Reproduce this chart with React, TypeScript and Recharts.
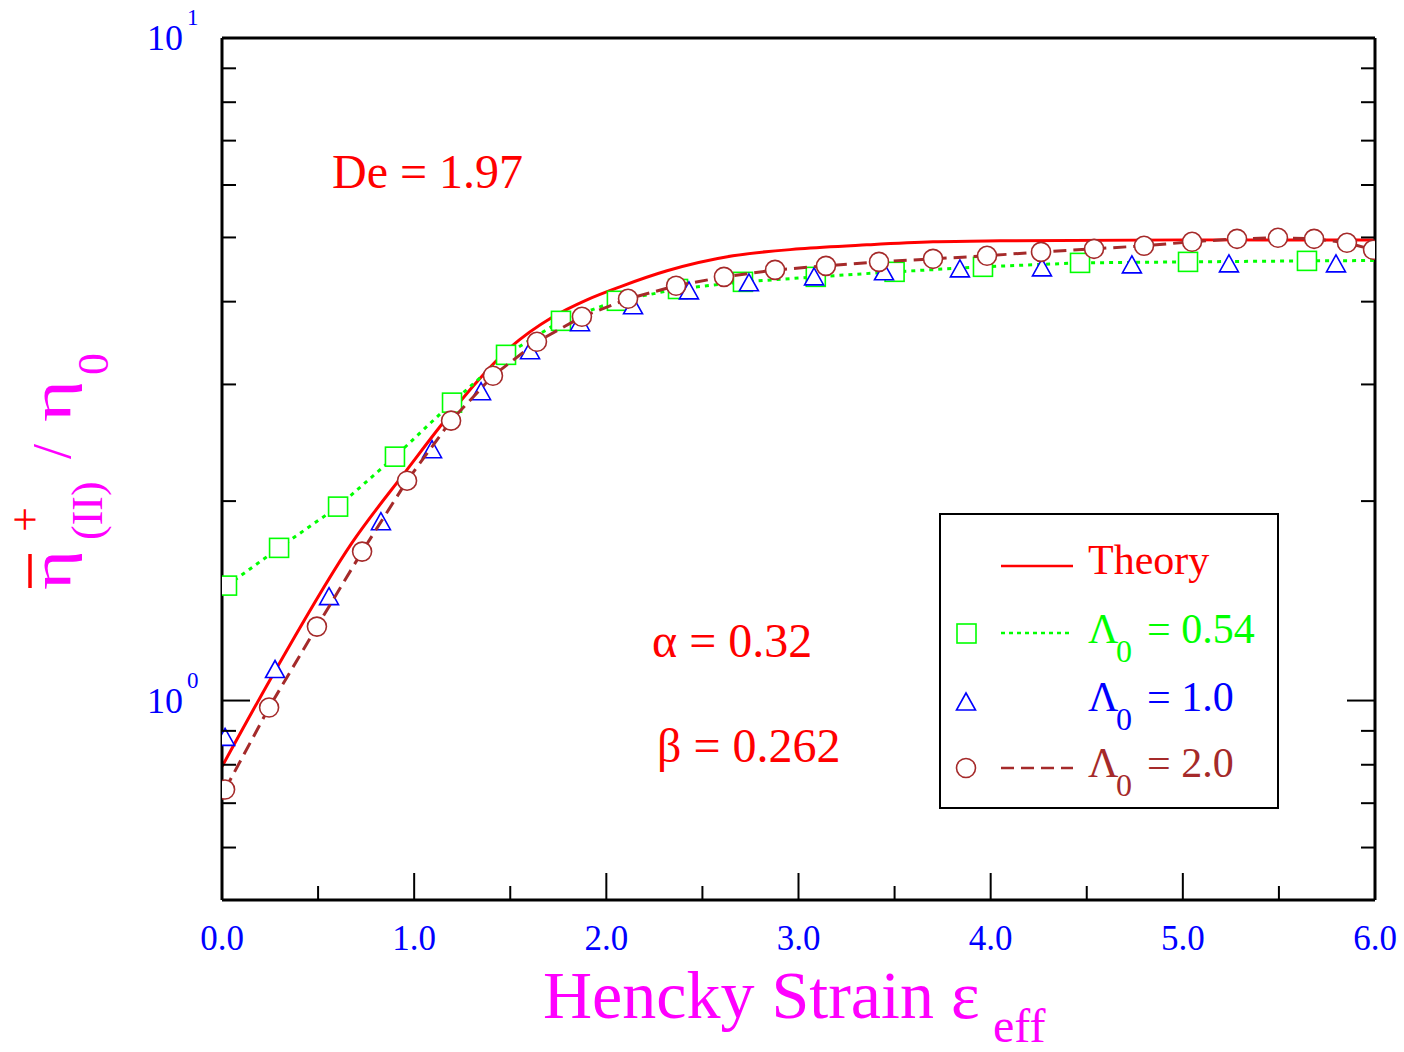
import React from 'react';
import { ComposedChart, Line, Scatter, XAxis, YAxis } from 'recharts';

// ---------- data ----------
const theoryX = [0, 0.286, 0.677, 0.963, 1.134, 1.327, 1.499, 1.723, 1.899, 2.071, 2.316, 2.659, 3.008, 3.356, 3.7, 4.049, 5.02, 6.0];
const theoryY = [0.795, 1.121, 1.731, 2.231, 2.59, 3.029, 3.408, 3.795, 4.026, 4.212, 4.453, 4.691, 4.806, 4.873, 4.924, 4.941, 4.958, 4.958];

const greenX = [0.026, 0.297, 0.604, 0.9, 1.197, 1.478, 1.764, 2.055, 2.373, 2.711, 3.09, 3.5, 3.96, 4.465, 5.027, 5.646, 6.3];
const greenY = [1.491, 1.7, 1.962, 2.334, 2.816, 3.325, 3.742, 4.012, 4.18, 4.285, 4.36, 4.437, 4.515, 4.577, 4.593, 4.609, 4.62];

const blueX = [0.016, 0.276, 0.557, 0.827, 1.093, 1.348, 1.603, 1.863, 2.139, 2.43, 2.742, 3.081, 3.445, 3.84, 4.267, 4.735, 5.24, 5.797];
const blueY = [0.88, 1.114, 1.435, 1.862, 2.391, 2.925, 3.373, 3.718, 3.943, 4.153, 4.271, 4.36, 4.437, 4.483, 4.499, 4.546, 4.562, 4.562];

const brownX = [0.016, 0.245, 0.494, 0.729, 0.963, 1.192, 1.41, 1.639, 1.873, 2.113, 2.363, 2.612, 2.878, 3.143, 3.419, 3.7, 3.981, 4.262, 4.538, 4.798, 5.048, 5.282, 5.495, 5.683, 5.854, 5.99];
const brownY = [0.734, 0.976, 1.293, 1.678, 2.147, 2.645, 3.092, 3.479, 3.795, 4.04, 4.227, 4.36, 4.467, 4.53, 4.593, 4.642, 4.691, 4.756, 4.806, 4.857, 4.925, 4.976, 4.994, 4.976, 4.908, 4.79];

const xTicks = [0, 0.5, 1, 1.5, 2, 2.5, 3, 3.5, 4, 4.5, 5, 5.5, 6];
const xMajor = [0, 1, 2, 3, 4, 5, 6];
const xMajorLabels = ['0.0', '1.0', '2.0', '3.0', '4.0', '5.0', '6.0'];
const yTicks = [0.6, 0.7, 0.8, 0.9, 1, 2, 3, 4, 5, 6, 7, 8, 9, 10];
const yMajor = [1, 10];
const yMajorExp = ['0', '1'];

const legendLabels = ['Theory', '= 0.54', '= 1.0', '= 2.0'];
const annotDe = 'De = 1.97';
const annotAlpha = 'α = 0.32';
const annotBeta = 'β = 0.262';

const toPoints = (xs: number[], ys: number[]) => xs.map((x, i) => ({ x, y: ys[i] }));
const theoryData = toPoints(theoryX, theoryY);
const greenData = toPoints(greenX, greenY);
const blueData = toPoints(blueX, blueY);
const brownData = toPoints(brownX, brownY);

// ---------- styles ----------
const FONT = "'Liberation Serif', 'Times New Roman', serif";
const RED = '#ff0000';
const GREEN = '#00ff00';
const BLUE = '#0000ff';
const BROWN = '#a52a2a';
const MAGENTA = '#ff00ff';

const W = 1404;
const H = 1052;
const AX = 20; // axis band size reserved by recharts
const M = { top: 38 - AX, right: 29 - AX, bottom: 152 - AX, left: 222 - AX };

const isMajorX = (v: number) => xMajor.indexOf(v) >= 0;
const isMajorY = (v: number) => yMajor.indexOf(v) >= 0;

const BottomTick = (p: any) => {
  const v = p.payload.value;
  const major = isMajorX(v);
  const len = major ? 27 : 14;
  return (
    <g>
      <line x1={p.x} y1={p.y} x2={p.x} y2={p.y - len} stroke="#000" strokeWidth={2} />
      {major && (
        <text x={p.x} y={p.y + 50} textAnchor="middle" fontFamily={FONT} fontSize={35} fill={BLUE}>
          {xMajorLabels[xMajor.indexOf(v)]}
        </text>
      )}
    </g>
  );
};

const TopTick = (p: any) => {
  const v = p.payload.value;
  const len = isMajorX(v) ? 27 : 14;
  return <line x1={p.x} y1={p.y} x2={p.x} y2={p.y + len} stroke="#000" strokeWidth={2} />;
};

const LeftTick = (p: any) => {
  const v = p.payload.value;
  const major = isMajorY(v);
  const len = major ? 28 : 14;
  return (
    <g>
      <line x1={p.x} y1={p.y} x2={p.x + len} y2={p.y} stroke="#000" strokeWidth={2} />
      {major && (
        <g fontFamily={FONT} fill={BLUE}>
          <text x={p.x - 39} y={p.y + 12} textAnchor="end" fontSize={36}>10</text>
          <text x={p.x - 35} y={p.y - 13} fontSize={23}>{yMajorExp[yMajor.indexOf(v)]}</text>
        </g>
      )}
    </g>
  );
};

const RightTick = (p: any) => {
  const v = p.payload.value;
  const len = isMajorY(v) ? 28 : 14;
  return <line x1={p.x} y1={p.y} x2={p.x - len} y2={p.y} stroke="#000" strokeWidth={2} />;
};

const Square = (p: any) => (
  <rect x={p.cx - 9.5} y={p.cy - 9.5} width={19} height={19} fill="#fff" stroke={GREEN} strokeWidth={1.6} />
);
const Triangle = (p: any) => (
  <polygon
    points={`${p.cx},${p.cy - 9} ${p.cx + 9.5},${p.cy + 8} ${p.cx - 9.5},${p.cy + 8}`}
    fill="#fff"
    stroke={BLUE}
    strokeWidth={1.6}
  />
);
const Circle = (p: any) => <circle cx={p.cx} cy={p.cy} r={9.5} fill="#fff" stroke={BROWN} strokeWidth={1.6} />;

const Overlay = () => (
  <svg
    width={W}
    height={H}
    style={{ position: 'absolute', left: 0, top: 0, pointerEvents: 'none' }}
    fontFamily={FONT}
  >
    {/* annotations */}
    <text x={332} y={188} fontSize={48} fill={RED}>{annotDe}</text>
    <text x={652} y={657} fontSize={48} fill={RED}>{annotAlpha}</text>
    <text x={657} y={762} fontSize={48} fill={RED}>{annotBeta}</text>

    {/* legend */}
    <rect x={940} y={514} width={338} height={294} fill="#fff" stroke="#000" strokeWidth={2} />
    <line x1={1001} y1={566} x2={1073} y2={566} stroke={RED} strokeWidth={2.5} />
    <text x={1088} y={574} fontSize={42} fill={RED}>{legendLabels[0]}</text>

    <rect x={957} y={624} width={19} height={19} fill="#fff" stroke={GREEN} strokeWidth={1.6} />
    <line x1={1001} y1={633} x2={1073} y2={633} stroke={GREEN} strokeWidth={2.5} strokeDasharray="4 4" />
    <text x={1088} y={643} fontSize={42} fill={GREEN}>Λ</text>
    <text x={1116} y={662} fontSize={32} fill={GREEN}>0</text>
    <text x={1147} y={643} fontSize={42} fill={GREEN}>{legendLabels[1]}</text>

    <polygon points="966,693 975.5,710 956.5,710" fill="#fff" stroke={BLUE} strokeWidth={1.6} />
    <text x={1088} y={711} fontSize={42} fill={BLUE}>Λ</text>
    <text x={1116} y={730} fontSize={32} fill={BLUE}>0</text>
    <text x={1147} y={711} fontSize={42} fill={BLUE}>{legendLabels[2]}</text>

    <circle cx={966} cy={768} r={9.5} fill="#fff" stroke={BROWN} strokeWidth={1.6} />
    <line x1={1001} y1={768} x2={1073} y2={768} stroke={BROWN} strokeWidth={2.5} strokeDasharray="13 7" />
    <text x={1088} y={777} fontSize={42} fill={BROWN}>Λ</text>
    <text x={1116} y={796} fontSize={32} fill={BROWN}>0</text>
    <text x={1147} y={777} fontSize={42} fill={BROWN}>{legendLabels[3]}</text>

    {/* x-axis title */}
    <text x={543} y={1018} fontSize={68} fill={MAGENTA}>Hencky Strain ε</text>
    <text x={993} y={1042} fontSize={48} fill={MAGENTA}>eff</text>

    {/* y-axis title */}
    <g transform="translate(70,590) rotate(-90)">
      <text x={0} y={0} fontSize={54} fill={MAGENTA} textLength={40} lengthAdjust="spacingAndGlyphs">η</text>
      <line x1={2} y1={-40} x2={36} y2={-40} stroke={RED} strokeWidth={3.5} />
      <text x={58} y={-30} fontSize={44} fill={RED}>+</text>
      <text x={50} y={32} fontSize={44} fill={MAGENTA}>(II)</text>
      <text x={131} y={0} fontSize={54} fill={MAGENTA}>/</text>
      <text x={168} y={0} fontSize={54} fill={MAGENTA} textLength={42} lengthAdjust="spacingAndGlyphs">η</text>
      <text x={215} y={38} fontSize={44} fill={MAGENTA}>0</text>
    </g>
  </svg>
);

export default function App() {
  return (
    <div style={{ position: 'absolute', left: 0, top: 0, width: W, height: H, background: '#fff' }}>
      <ComposedChart width={W} height={H} margin={M}>
        <XAxis
          xAxisId={0}
          dataKey="x"
          type="number"
          domain={[0, 6]}
          allowDataOverflow
          ticks={xTicks}
          interval={0}
          height={AX}
          tickSize={0}
          tickMargin={0}
          tickLine={false}
          axisLine={{ stroke: '#000', strokeWidth: 3 }}
          tick={BottomTick}
        />
        <XAxis
          xAxisId="top"
          orientation="top"
          type="number"
          domain={[0, 6]}
          allowDataOverflow
          ticks={xTicks}
          interval={0}
          height={AX}
          tickSize={0}
          tickMargin={0}
          tickLine={false}
          axisLine={{ stroke: '#000', strokeWidth: 3 }}
          tick={TopTick}
        />
        <YAxis
          yAxisId={0}
          dataKey="y"
          type="number"
          scale="log"
          domain={[0.5, 10]}
          allowDataOverflow
          ticks={yTicks}
          interval={0}
          width={AX}
          tickSize={0}
          tickMargin={0}
          tickLine={false}
          axisLine={{ stroke: '#000', strokeWidth: 3 }}
          tick={LeftTick}
        />
        <YAxis
          yAxisId="right"
          orientation="right"
          type="number"
          scale="log"
          domain={[0.5, 10]}
          allowDataOverflow
          ticks={yTicks}
          interval={0}
          width={AX}
          tickSize={0}
          tickMargin={0}
          tickLine={false}
          axisLine={{ stroke: '#000', strokeWidth: 3 }}
          tick={RightTick}
        />
        <Line
          data={theoryData}
          dataKey="y"
          type="monotone"
          stroke={RED}
          strokeWidth={3}
          dot={false}
          activeDot={false}
          isAnimationActive={false}
        />
        <Scatter
          data={greenData}
          dataKey="y"
          line={{ stroke: GREEN, strokeWidth: 3, strokeDasharray: '4 5' }}
          lineType="joint"
          shape={Square}
          isAnimationActive={false}
        />
        <Scatter data={blueData} dataKey="y" shape={Triangle} isAnimationActive={false} />
        <Scatter
          data={brownData}
          dataKey="y"
          line={{ stroke: BROWN, strokeWidth: 3, strokeDasharray: '13 7' }}
          lineType="joint"
          shape={Circle}
          isAnimationActive={false}
        />
      </ComposedChart>
      <Overlay />
    </div>
  );
}
